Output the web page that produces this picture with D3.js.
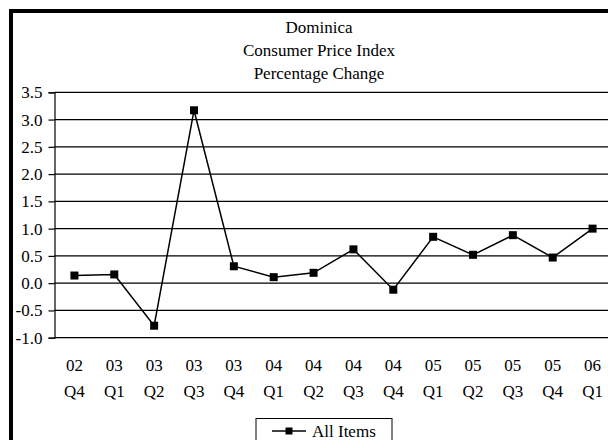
<!DOCTYPE html>
<html>
<head>
<meta charset="utf-8">
<script src="https://cdn.jsdelivr.net/npm/d3@7"></script>
<style>
  html, body { margin: 0; padding: 0; background: #fff; }
  svg { display: block; }
</style>
</head>
<body>
<svg id="chart" width="608" height="440"></svg>
<script>
// Quarter labels (year over quarter) and CPI percentage change
const years    = ["02", "03", "03", "03", "03", "04", "04", "04", "04", "05", "05", "05", "05", "06"];
const quarters = ["Q4", "Q1", "Q2", "Q3", "Q4", "Q1", "Q2", "Q3", "Q4", "Q1", "Q2", "Q3", "Q4", "Q1"];
const allItems = [0.14, 0.16, -0.78, 3.17, 0.31, 0.11, 0.19, 0.62, -0.12, 0.85, 0.52, 0.88, 0.47, 1.0];
const yTicks   = [-1.0, -0.5, 0.0, 0.5, 1.0, 1.5, 2.0, 2.5, 3.0, 3.5];
const titleLines = ["Dominica", "Consumer Price Index", "Percentage Change"];
const seriesName = "All Items";

const FONT = '"Liberation Serif", "Times New Roman", serif';
const svg = d3.select("#chart");
const plot = { left: 54.5, right: 612.5, top: 92.3, bottom: 337.7 };

const keys = years.map((y, i) => i);
const x = d3.scalePoint().domain(keys).range([plot.left, plot.right]).padding(0.5);
const y = d3.scaleLinear().domain([-1, 3.5]).range([plot.bottom, plot.top]);

// outer chart frame
svg.append("rect")
  .attr("x", 11).attr("y", 11).attr("width", 630).attr("height", 460)
  .attr("fill", "none").attr("stroke", "#000").attr("stroke-width", 4);

// title
svg.append("g").selectAll("text").data(titleLines).join("text")
  .attr("x", 319).attr("y", (d, i) => 32.5 + i * 23.3)
  .attr("text-anchor", "middle").attr("font-size", 17)
  .style("font-family", FONT)
  .text(d => d);

// horizontal gridlines
svg.append("g").selectAll("line").data(yTicks).join("line")
  .attr("x1", plot.left).attr("x2", plot.right)
  .attr("y1", d => y(d)).attr("y2", d => y(d))
  .attr("stroke", "#000").attr("stroke-width", 1.2);

// y axis
const yAxis = d3.axisLeft(y).tickValues(yTicks).tickSize(6).tickPadding(6)
  .tickFormat(d => d3.format(".1f")(d).replace("\u2212", "-"));
const gy = svg.append("g").attr("transform", `translate(${plot.left},0)`).call(yAxis);
gy.select(".domain").attr("stroke", "#000").attr("stroke-width", 1.2);
gy.selectAll(".tick line").attr("stroke", "#000").attr("stroke-width", 1.2);
gy.selectAll(".tick text").attr("font-size", 17).attr("fill", "#000")
  .style("font-family", FONT);

// x category labels, two lines each
const gx = svg.append("g");
gx.selectAll("text.yr").data(keys).join("text").attr("class", "yr")
  .attr("x", d => x(d)).attr("y", 370.7)
  .attr("text-anchor", "middle").attr("font-size", 17)
  .style("font-family", FONT)
  .text(d => years[d]);
gx.selectAll("text.qt").data(keys).join("text").attr("class", "qt")
  .attr("x", d => x(d)).attr("y", 396.5)
  .attr("text-anchor", "middle").attr("font-size", 17)
  .style("font-family", FONT)
  .text(d => quarters[d]);

// series line and markers
const line = d3.line().x((d, i) => x(i)).y(d => y(d));
svg.append("path").datum(allItems)
  .attr("d", line).attr("fill", "none")
  .attr("stroke", "#000").attr("stroke-width", 1.5);
svg.append("g").selectAll("rect").data(allItems).join("rect")
  .attr("x", (d, i) => x(i) - 4).attr("y", d => y(d) - 4)
  .attr("width", 8).attr("height", 8).attr("fill", "#000");

// legend
const lg = svg.append("g");
lg.append("rect").attr("x", 256).attr("y", 418.5).attr("width", 136).attr("height", 30)
  .attr("fill", "#fff").attr("stroke", "#000").attr("stroke-width", 1);
lg.append("line").attr("x1", 272).attr("x2", 306).attr("y1", 431).attr("y2", 431)
  .attr("stroke", "#000").attr("stroke-width", 1.5);
lg.append("rect").attr("x", 285.5).attr("y", 427.5).attr("width", 7).attr("height", 7).attr("fill", "#000");
lg.append("text").attr("x", 312).attr("y", 437).attr("font-size", 17)
  .style("font-family", FONT).text(seriesName);
</script>
</body>
</html>
